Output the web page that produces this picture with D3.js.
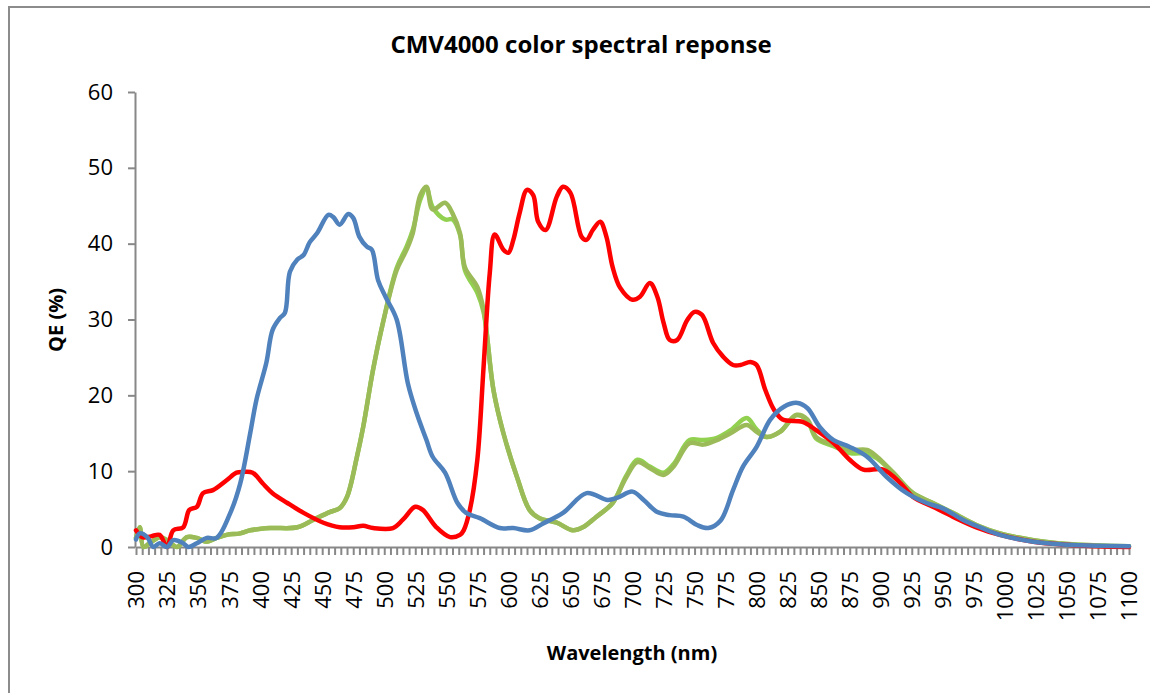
<!DOCTYPE html>
<html lang="en">
  <head>
    <meta charset="utf-8">
    <title>CMV4000 color spectral reponse</title>
    <script src="https://d3js.org/d3.v7.min.js"></script>
    <style>
      body { margin: 0; background: #fff; }
      text { font-family: "Open Sans", sans-serif; fill: #000; }
    </style>
  </head>

  <body>
    <svg width="1150" height="693"></svg>
    <script type="text/javascript">

        // data
        var xTicks = d3.range(300, 1101, 25);
        var yTicks = [0, 10, 20, 30, 40, 50, 60];

        var blueWl = [300,303,309,314,319,325,330,338,342,349,357,365,376,384,392,397,405,410,416,420,424,430,435,440,446,455,459,464,471,475,480,486,490,495,501,510,519,526,534,539,549,559,566,577,593,604,617,628,644,663,680,688,700,709,720,730,741,752,761,771,781,789,800,811,822,833,841,851,862,875,889,905,921,937,950,966,980,996,1023,1050,1075,1100];
        var blueQE = [1.0,1.8,1.3,0,0.5,0,0.9,0.5,0,0.5,1.2,1.2,4.5,8.4,15,19.4,24.3,28.6,30.2,30.9,36.3,37.9,38.5,40.2,41.4,43.8,43.5,42.5,43.9,43.4,40.9,39.6,39.2,35.2,33,30,21.6,17.7,14.1,11.9,9.8,5.8,4.5,3.8,2.5,2.5,2.2,3.1,4.5,7.1,6.2,6.5,7.3,6.2,4.6,4.2,4.0,2.9,2.5,3.5,7.5,10.6,13.2,16.8,18.5,19,18.3,15.8,14.1,13.2,11.9,9.2,7.1,5.8,5.1,3.6,2.6,1.6,0.7,0.3,0.15,0.1];

        var redWl = [300,305,312,319,325,330,338,343,349,354,362,373,381,386,394,402,410,422,435,451,464,475,483,491,507,515,525,531,542,553,561,564,569,575,580,585,589,596,600,604,609,615,620,624,630,639,644,650,659,663,668,674,679,684,690,700,706,714,720,725,730,736,744,750,756,765,773,781,787,795,800,807,814,821,837,848,862,875,886,902,916,926,942,958,977,996,1023,1050,1075,1100];
        var redQE = [2.2,1.3,1.4,1.6,0,2.2,2.6,4.9,5.3,7.1,7.5,8.8,9.8,9.9,9.8,8.4,7.1,5.8,4.5,3.2,2.6,2.6,2.8,2.5,2.5,3.6,5.3,4.9,2.6,1.3,1.6,2.2,4.9,11.5,23.7,36.1,41.2,39.2,38.8,40.5,44,47.1,46.4,42.9,41.8,46.2,47.5,46.7,40.9,40.5,41.8,42.9,40.9,36.9,34.2,32.6,33,34.8,33,29.6,27.3,27.3,29.9,31,30.6,26.9,25.1,24,24,24.4,24,20.7,18.1,16.8,16.5,15.4,13.7,11.5,10.2,10.2,8.4,6.6,5.3,4,2.6,1.6,0.7,0.3,0.1,0];

        var greenWl = [300,303,306,311,319,325,333,341,349,357,365,373,384,392,408,430,443,456,464,470,478,483,491,499,510,518,523,529,534,539,549,555,561,565,575,580,588,596,607,617,625,639,652,660,671,684,695,704,714,725,733,746,757,768,779,792,800,808,819,832,841,848,862,875,889,897,910,926,942,958,977,996,1023,1050,1075,1100];
        var greenQE = [1.2,2.6,0,0.5,1.3,0.9,0,1.3,1.2,0.7,1.2,1.6,1.8,2.2,2.5,2.6,3.6,4.6,5.1,6.6,11.9,15.8,23.4,29.6,36.5,39.2,41.4,46.4,47.5,44.5,45.4,44,41.4,36.9,34.3,31.3,20.7,15,9.2,4.9,3.8,3.2,2.2,2.6,4,5.8,9.2,11.2,10.4,9.5,10.6,13.7,13.5,14.1,15,16.1,15.2,14.5,15.2,17.4,16.8,14.5,13.5,12.8,12.8,11.9,9.8,7.1,5.8,4.5,2.9,1.8,0.9,0.4,0.2,0.1];
        var green2QE = [1.2,2.6,0,0.5,1.3,0.9,0,1.3,1.2,0.7,1.2,1.6,1.8,2.2,2.5,2.6,3.6,4.6,5.1,6.6,11.9,15.8,23.4,29.6,36.8,39.6,41.8,45.8,47.3,44.8,43.2,43.2,41.2,36.5,33.5,31.0,20.7,15,9.2,4.9,3.8,3.2,2.2,2.6,4,5.8,9.4,11.5,10.6,9.8,10.9,14.1,14.1,14.4,15.4,17.0,15.5,14.5,15.2,17.4,16.6,14.3,13.3,12.4,12.3,11.7,9.8,7.1,5.8,4.5,2.9,1.8,0.9,0.4,0.2,0.1];

        var svg = d3.select("svg");

        // outer chart frame, only top and left edges show
        svg.append("rect")
          .attr("x", 9).attr("y", 7)
          .attr("width", 1200).attr("height", 800)
          .attr("fill", "none")
          .attr("stroke", "#8c8c8c")
          .attr("stroke-width", 2);

        var x = d3.scaleLinear().domain([300, 1100]).range([136, 1129]);
        var y = d3.scaleLinear().domain([0, 60]).range([547, 92]);

        // y axis
        var yAxis = svg.append("g")
          .attr("transform", "translate(135,0)")
          .call(d3.axisLeft(y).tickValues(yTicks).tickSize(7).tickSizeOuter(0).tickPadding(15));
        yAxis.selectAll("path, line").attr("stroke", "#888").attr("stroke-width", 2);
        yAxis.selectAll("text")
          .style("font-size", "22px")
          .style("font-family", "'Open Sans', sans-serif");

        // x axis: minor ticks every 5 nm, labels every 25 nm
        var xAxis = svg.append("g")
          .attr("transform", "translate(0,547)")
          .call(d3.axisBottom(x)
            .tickValues(d3.range(300, 1101, 5))
            .tickSize(8).tickSizeOuter(0)
            .tickFormat(function(d){ return xTicks.indexOf(d) >= 0 ? d : ""; }));
        xAxis.selectAll("path, line").attr("stroke", "#888").attr("stroke-width", 2);
        xAxis.selectAll("text")
          .attr("transform", "rotate(-90)")
          .attr("x", -24)
          .attr("y", 0)
          .attr("dy", "0.36em")
          .attr("text-anchor", "end")
          .style("font-size", "22px")
          .style("font-family", "'Open Sans', sans-serif");

        // series
        var series = [
          {wl: greenWl, qe: green2QE, color: "#92d050"},
          {wl: greenWl, qe: greenQE, color: "#9bbb59"},
          {wl: redWl, qe: redQE, color: "#ff0000"},
          {wl: blueWl, qe: blueQE, color: "#4f81bd"}
        ];

        var line = d3.line()
          .x(function(d){ return x(d[0]); })
          .y(function(d){ return y(d[1]); })
          .curve(d3.curveCatmullRom.alpha(0.5));

        svg.selectAll("path.series")
          .data(series)
          .enter().append("path")
          .attr("class", "series")
          .attr("fill", "none")
          .attr("stroke", function(d){ return d.color; })
          .attr("stroke-width", 4.5)
          .attr("stroke-linejoin", "round")
          .attr("stroke-linecap", "round")
          .attr("d", function(d){ return line(d.wl.map(function(w, i){ return [w, d.qe[i]]; })); });

        // titles
        svg.append("text")
          .attr("x", 581).attr("y", 53)
          .attr("text-anchor", "middle")
          .style("font-size", "24px").style("font-weight", "bold")
          .text("CMV4000 color spectral reponse");

        svg.append("text")
          .attr("transform", "translate(63,320) rotate(-90)")
          .attr("text-anchor", "middle")
          .style("font-size", "20px").style("font-weight", "bold")
          .text("QE (%)");

        svg.append("text")
          .attr("x", 632).attr("y", 660)
          .attr("text-anchor", "middle")
          .style("font-size", "20px").style("font-weight", "bold")
          .text("Wavelength (nm)");

    </script>
</body>
</html>
